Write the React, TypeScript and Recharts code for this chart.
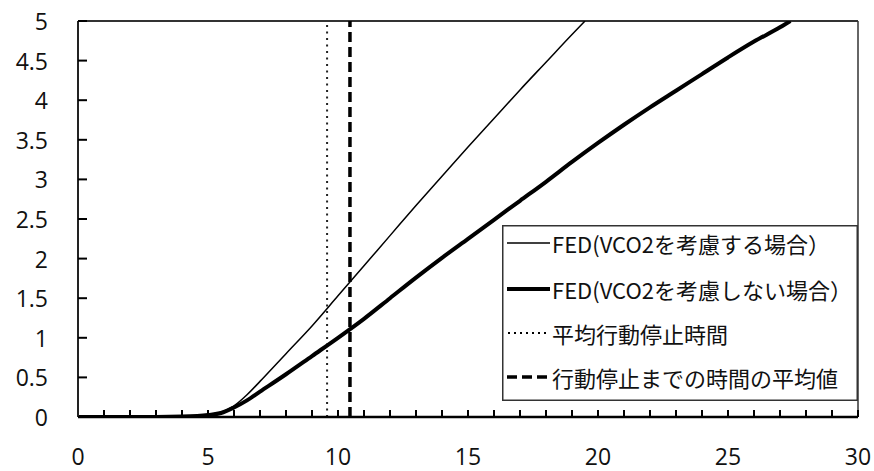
import { LineChart, Line, XAxis, YAxis, ReferenceLine, Legend } from "recharts";

// FED curves (x: time, y: FED)
const thinX = [0, 1, 2, 3, 4, 5, 5.5, 6, 6.5, 7, 8, 9, 10, 11, 12, 13, 14, 15, 16, 17, 18, 19, 19.5];
const thinY = [0, 0, 0, 0, 0.005, 0.03, 0.06, 0.14, 0.28, 0.45, 0.8, 1.15, 1.53, 1.91, 2.29, 2.67, 3.04, 3.41, 3.77, 4.13, 4.48, 4.83, 5.0];

const thickX = [0, 1, 2, 3, 4, 5, 5.5, 6, 6.5, 7, 8, 9, 10, 11, 12, 13, 14, 15, 16, 17, 18, 19, 20, 21, 22, 23, 24, 25, 26, 27, 27.4];
const thickY = [0, 0, 0, 0, 0.005, 0.025, 0.05, 0.12, 0.21, 0.32, 0.54, 0.77, 1.0, 1.24, 1.5, 1.76, 2.01, 2.25, 2.49, 2.73, 2.97, 3.22, 3.46, 3.69, 3.91, 4.12, 4.33, 4.54, 4.74, 4.92, 5.0];

const avgStopTime = 9.58;
const meanTimeToStop = 10.46;

const xTicks = [0, 1, 2, 3, 4, 5, 6, 7, 8, 9, 10, 11, 12, 13, 14, 15, 16, 17, 18, 19, 20, 21, 22, 23, 24, 25, 26, 27, 28, 29, 30];
const yTicks = [0, 0.5, 1, 1.5, 2, 2.5, 3, 3.5, 4, 4.5, 5];

const legendLabels = [
  "FED(VCO2を考慮する場合）",
  "FED(VCO2を考慮しない場合）",
  "平均行動停止時間",
  "行動停止までの時間の平均値",
];

const thinData = thinX.map((x, i) => ({ x, y: thinY[i] }));
const thickData = thickX.map((x, i) => ({ x, y: thickY[i] }));

const tickFont = "'Open Sans', 'Noto Sans', sans-serif";

// only every 5th tick carries a label
const renderXTick = (props: any) => {
  const { x, y, payload } = props;
  if (payload.value % 5 !== 0) return <g />;
  return (
    <text x={x} y={y + 39} textAnchor="middle" dominantBaseline="central" fontFamily={tickFont} fontSize={23} fill="#111">
      {payload.value}
    </text>
  );
};

const renderYTick = (props: any) => {
  const { x, y, payload } = props;
  return (
    <text x={x - 30} y={y} textAnchor="end" dominantBaseline="central" fontFamily={tickFont} fontSize={23} fill="#111">
      {payload.value}
    </text>
  );
};

const rowY = [18, 64, 108, 152];

const LegendBox = () => (
  <svg width={356} height={176} style={{ display: "block", overflow: "visible" }}>
    <rect x={0.75} y={0.75} width={354.5} height={174.5} fill="#fff" stroke="#333" strokeWidth={1.5} />
    <line x1={5} x2={48} y1={rowY[0]} y2={rowY[0]} stroke="#000" strokeWidth={1.5} />
    <line x1={5} x2={48} y1={rowY[1]} y2={rowY[1]} stroke="#000" strokeWidth={4} />
    <line x1={6} x2={48} y1={rowY[2]} y2={rowY[2]} stroke="#000" strokeWidth={2} strokeDasharray="2 4" />
    <line x1={5} x2={48} y1={rowY[3]} y2={rowY[3]} stroke="#000" strokeWidth={3.5} strokeDasharray="10 5" />
    {legendLabels.map((label, i) => (
      <text
        key={label}
        x={50}
        y={rowY[i]}
        dominantBaseline="central"
        fontFamily="'Noto Sans CJK JP', sans-serif"
        fontSize={22}
        fill="#111"
      >
        {label}
      </text>
    ))}
  </svg>
);

export default function App() {
  return (
    <div style={{ position: "absolute", left: 0, top: 0, width: 874, height: 471, background: "#fff" }}>
      <LineChart width={874} height={471} margin={{ top: 21, right: 16, bottom: 0, left: 0 }}>
        <XAxis
          type="number"
          dataKey="x"
          domain={[0, 30]}
          ticks={xTicks}
          interval={0}
          allowDataOverflow
          height={54}
          tickSize={-7}
          tickMargin={7}
          tickLine={{ stroke: "#000", strokeWidth: 2 }}
          axisLine={{ stroke: "#000", strokeWidth: 2.5 }}
          tick={renderXTick}
        />
        <YAxis
          type="number"
          domain={[0, 5]}
          ticks={yTicks}
          interval={0}
          allowDataOverflow
          width={78}
          tickSize={-9}
          tickMargin={9}
          tickLine={{ stroke: "#000", strokeWidth: 2 }}
          axisLine={{ stroke: "#222", strokeWidth: 2 }}
          tick={renderYTick}
        />
        <ReferenceLine y={5} stroke="#333" strokeWidth={2} />
        <ReferenceLine x={30} stroke="#333" strokeWidth={1.5} />
        <ReferenceLine x={avgStopTime} stroke="#222" strokeWidth={2} strokeDasharray="2 4.5" />
        <ReferenceLine x={meanTimeToStop} stroke="#000" strokeWidth={3.5} strokeDasharray="10 5" />
        <Line
          data={thinData}
          dataKey="y"
          type="monotone"
          stroke="#000"
          strokeWidth={1.5}
          dot={false}
          isAnimationActive={false}
        />
        <Line
          data={thickData}
          dataKey="y"
          type="monotone"
          stroke="#000"
          strokeWidth={4}
          dot={false}
          isAnimationActive={false}
        />
        <Legend
          layout="horizontal"
          verticalAlign="middle"
          align="center"
          wrapperStyle={{ left: 502, top: 225, width: 356, height: 176 }}
          content={<LegendBox />}
        />
      </LineChart>
    </div>
  );
}
